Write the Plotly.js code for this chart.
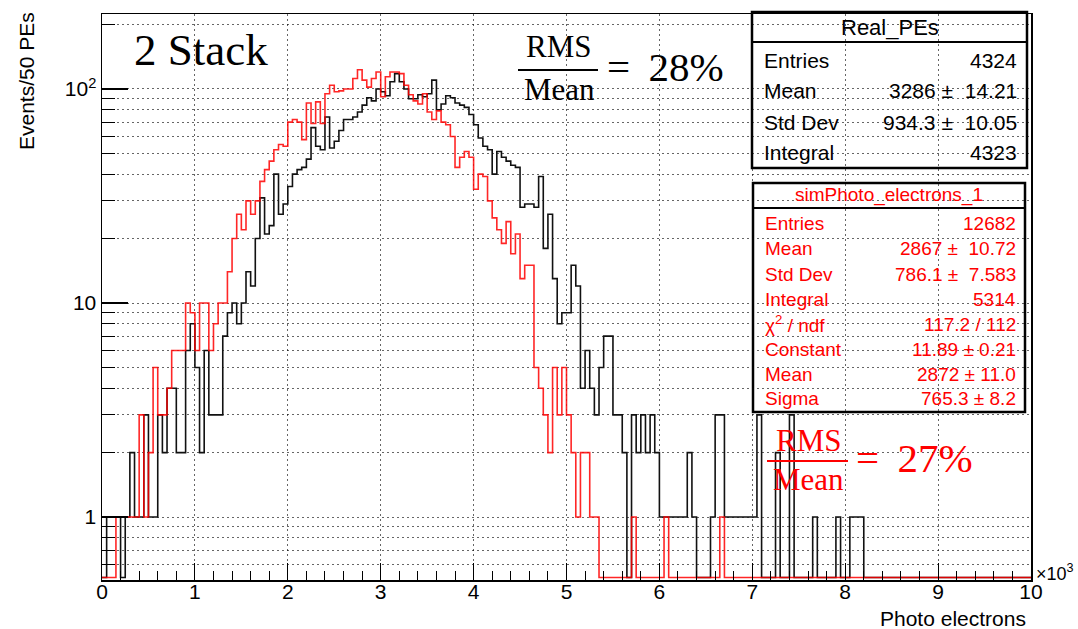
<!DOCTYPE html>
<html>
<head>
<meta charset="utf-8">
<script src="https://cdn.plot.ly/plotly-3.0.1.min.js"></script>
<style>html,body{margin:0;padding:0;background:#fff;}#chart{width:1078px;height:629px;}</style>
</head>
<body>
<div id="chart"></div>
<script>
// ---------------- data (Events / 50 PEs, 200 bins from 0 to 10000) ----------------
const binWidth = 50;
const nBins = 200;
const realPEs = [
  0,1,1,1,0,1,2,1,1,3,
  1,1,3,2,4,4,2,2,6,8,
  5,2,6,3,3,3,7,9,10,8,
  10,14,12,20,31,21,23,40,26,29,
  35,40,42,43,47,66,54,52,74,53,
  57,64,72,72,74,78,84,91,88,100,
  97,93,108,118,108,100,90,90,94,92,
  95,110,80,85,93,91,86,84,82,76,
  68,59,54,52,40,51,48,46,44,43,
  28,29,29,28,39,18,26,13,8,9,
  9,15,12,4,6,4,3,5,7,7,
  3,3,2,0,3,2,3,2,3,2,
  1,1,1,1,1,1,2,1,0,0,
  0,1,3,3,1,1,1,1,1,1,
  1,3,0,0,0,2,0,0,3,0,
  0,0,0,1,0,0,0,0,1,0,
  0,1,1,1,0,0,0,0,0,0,
  0,0,0,0,0,0,0,0,0,0,
  0,0,0,0,0,0,0,0,0,0,
  0,0,0,0,0,0,0,0,0,0
];
const simPE = [
  0,0,0,1,1,1,1,1,3,1,
  2,5,3,3,4,6,6,6,10,9,
  6,10,10,6,8,10,10,14,20,26,
  22,30,26,30,37,42,46,52,55,54,
  70,72,70,58,86,69,87,69,95,104,
  97,98,100,100,112,123,110,102,112,120,
  92,114,120,120,118,104,94,88,85,95,
  78,72,79,70,68,60,43,48,51,48,
  34,40,39,30,25,22,19,24,17,21,
  13,15,15,5,4,3,2,5,3,5,
  3,2,1,2,2,1,1,0,0,0,
  0,0,0,0,1,0,0,0,0,0,
  0,1,0,0,0,0,0,0,0,0,
  0,0,0,1,0,0,0,0,0,0,
  0,0,0,0,0,0,0,0,0,0,
  0,0,0,0,0,0,0,0,0,0,
  0,0,0,0,0,0,0,0,0,0,
  0,0,0,0,0,0,0,0,0,0,
  0,0,0,0,0,0,0,0,0,0,
  0,0,0,0,0,0,0,0,0,0
];
const xTickVals = [0,1000,2000,3000,4000,5000,6000,7000,8000,9000,10000];
const xTickText = ['0','1','2','3','4','5','6','7','8','9','10'];
const yTickVals = [1,10,100];
const yTickText = ['1','10','10<sup>2</sup>'];
const yMinorVals = [0.6,0.7,0.8,0.9,2,3,4,5,6,7,8,9,20,30,40,50,60,70,80,90,200];
const statsReal = [['Entries','4324'],['Mean','3286 \u00b1  14.21'],['Std Dev','934.3 \u00b1  10.05'],['Integral','4323']];
const statsSim = [['Entries','12682'],['Mean','2867 \u00b1  10.72'],['Std Dev','786.1 \u00b1  7.583'],['Integral','5314'],
  ['\u03c7<sup>2</sup> / ndf','117.2 / 112'],['Constant','11.89 \u00b1 0.21'],['Mean','2872 \u00b1 11.0'],['Sigma','765.3 \u00b1 8.2']];

// ---------------- drawing ----------------
const yMin = 0.508, yMax = 224;
const yZero = 0.522;   // empty bins drawn just on the frame bottom, as ROOT does
const edges = [];
for (let i = 0; i <= nBins; i++) edges.push(i * binWidth);
function stepY(counts){
  const y = counts.map(v => v > 0 ? v : yZero);
  y.push(y[y.length-1]);
  return y;
}
const traces = [
  {x: edges, y: stepY(realPEs), type:'scatter', mode:'lines', line:{shape:'hv', color:'#111', width:1.6}, name:'Real_PEs', hoverinfo:'skip'},
  {x: edges, y: stepY(simPE), type:'scatter', mode:'lines', line:{shape:'hv', color:'rgba(255,0,0,0.85)', width:1.6}, name:'simPhoto_electrons_1', hoverinfo:'skip'}
];

const L = 102, R = 1031, T = 14, B = 580;
const px = x => (x - L) / (R - L);
const py = y => (B - y) / (B - T);
const SANS = 'Liberation Sans, Arial, sans-serif';
const SERIF = 'Liberation Serif, Times New Roman, serif';

const annotations = [];
const shapes = [];
function txt(text, x, y, o){
  o = o || {};
  annotations.push(Object.assign({text:text, x:px(x), y:py(y), xref:'paper', yref:'paper', showarrow:false,
    xanchor:'left', yanchor:'middle', font:{family:SANS, size:22, color:'#000'}}, o));
}
function rect(x0,y0,x1,y1,w){
  shapes.push({type:'rect', xref:'paper', yref:'paper', x0:px(x0), x1:px(x1), y0:py(y1), y1:py(y0), line:{color:'#000', width:w}, fillcolor:'rgba(0,0,0,0)'});
}
function hline(x0,x1,y,color,w){
  shapes.push({type:'line', xref:'paper', yref:'paper', x0:px(x0), x1:px(x1), y0:py(y), y1:py(y), line:{color:color, width:w}});
}

// axis titles
txt('Events/50 PEs', 27, 10, {textangle:-90, xanchor:'center', yanchor:'top', font:{family:SANS, size:21, color:'#000'}});
txt('Photo electrons', 1028, 618, {xanchor:'right', font:{family:SANS, size:21, color:'#000'}});
txt('\u00d710<sup>3</sup>', 1034, 572, {font:{family:SANS, size:18, color:'#000'}});

// labels in the frame
txt('2 Stack', 132, 50, {font:{family:SERIF, size:45, color:'#000'}});
txt('RMS', 558, 47, {xanchor:'center', font:{family:SERIF, size:31, color:'#000'}});
txt('Mean', 559, 89, {xanchor:'center', font:{family:SERIF, size:31, color:'#000'}});
hline(518, 598, 70, '#000', 2);
txt('=\u2009 28%', 605, 67, {font:{family:SERIF, size:41, color:'#000'}});

txt('RMS', 808, 440, {xanchor:'center', font:{family:SERIF, size:31, color:'#f00'}});
txt('Mean', 808, 479, {xanchor:'center', font:{family:SERIF, size:31, color:'#f00'}});
hline(767, 848, 461, '#f00', 2);
txt('=\u2009 27%', 854, 458, {font:{family:SERIF, size:41, color:'#f00'}});

// stats box 1
rect(752, 12, 1027, 168, 2.5);
hline(752, 1027, 42, '#000', 2);
txt('Real_PEs', 890, 27, {xanchor:'center', font:{family:SANS, size:22, color:'#000'}});
statsReal.forEach((r, i) => {
  const y = 60 + i * 31;
  txt(r[0], 762, y, {font:{family:SANS, size:21, color:'#000'}});
  txt(r[1], 1019, y, {xanchor:'right', font:{family:SANS, size:21, color:'#000'}});
});
// stats box 2
rect(753, 183, 1025, 412, 2.5);
hline(753, 1025, 208, '#000', 2);
txt('simPhoto_electrons_1', 889, 195, {xanchor:'center', font:{family:SANS, size:19, color:'#f00'}});
statsSim.forEach((r, i) => {
  const y = 224 + i * 25;
  txt(r[0], 763, y, {font:{family:SANS, size:19, color:'#f00'}});
  txt(r[1], 1018, y, {xanchor:'right', font:{family:SANS, size:19, color:'#f00'}});
});

const gridCol = 'rgba(0,0,0,0.6)';
const layout = {
  width:1078, height:629,
  margin:{l:L, r:1078-R, t:T, b:629-B, pad:0},
  paper_bgcolor:'#fff', plot_bgcolor:'#fff',
  showlegend:false,
  font:{family:SANS, size:22, color:'#000'},
  xaxis:{
    range:[0,10000], tickmode:'array', tickvals:xTickVals, ticktext:xTickText,
    ticks:'inside', ticklen:17, tickwidth:1, tickcolor:'#000', ticklabelstandoff:-8,
    showline:true, linecolor:'#000', linewidth:1.5, mirror:true,
    showgrid:true, gridcolor:gridCol, griddash:'2px,3px', gridwidth:1, zeroline:false,
    minor:{tick0:0, dtick:200, ticks:'inside', ticklen:9, tickcolor:'#000', tickwidth:1, showgrid:false},
    tickfont:{family:SANS, size:21, color:'#000'}
  },
  yaxis:{
    type:'log', range:[Math.log10(yMin), Math.log10(yMax)],
    tickmode:'array', tickvals:yTickVals, ticktext:yTickText,
    ticks:'inside', ticklen:26, tickwidth:1.5, tickcolor:'#000',
    showline:true, linecolor:'#000', linewidth:1.5, mirror:true,
    showgrid:true, gridcolor:gridCol, griddash:'2px,3px', gridwidth:1, zeroline:false,
    minor:{tickmode:'array', tickvals:yMinorVals, ticks:'inside', ticklen:13, tickcolor:'#000', tickwidth:1,
      showgrid:true, gridcolor:gridCol, griddash:'2px,3px', gridwidth:1},
    tickfont:{family:SANS, size:21, color:'#000'}
  },
  annotations:annotations,
  shapes:shapes
};
Plotly.newPlot('chart', traces, layout, {staticPlot:true, displayModeBar:false});
</script>
</body>
</html>
